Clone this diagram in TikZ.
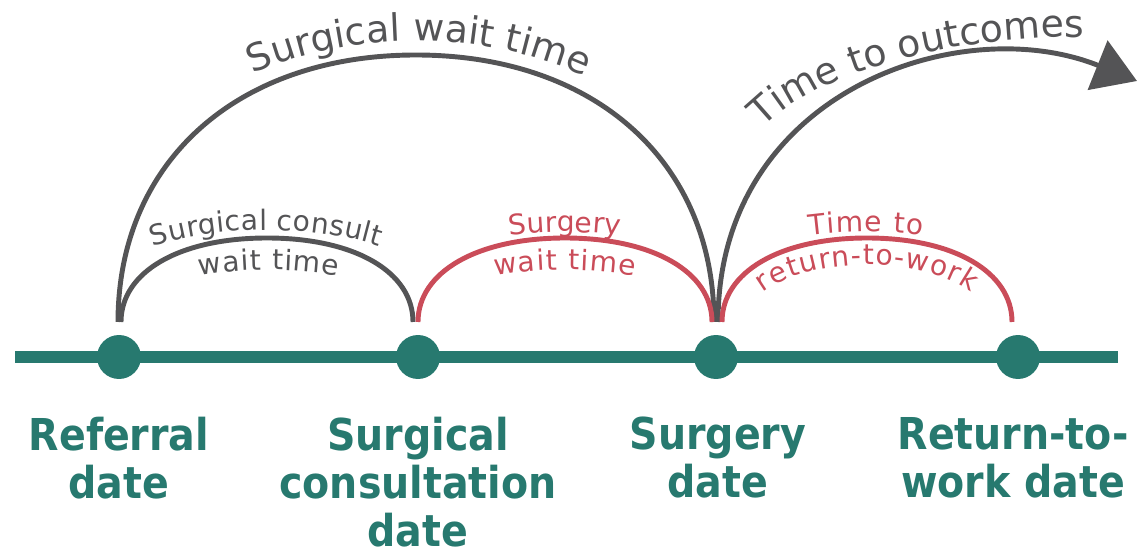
\documentclass[tikz,border=0pt]{standalone}
\usepackage{fontspec}
\setmainfont{DejaVu Sans}
\newfontfamily\datefont{DejaVu Sans Condensed Bold}
\usetikzlibrary{arrows.meta,decorations.text}

\definecolor{tlteal}{RGB}{39,121,111}
\definecolor{arcgray}{RGB}{84,84,86}
\definecolor{arcred}{RGB}{202,76,89}
\newcommand{\bigarcfont}{\fontsize{21.5}{25}\selectfont}
\newcommand{\smallarcfont}{\fontsize{16}{19}\selectfont}

\tikzset{
  timeline/.style={draw=tlteal, line width=7.2pt},
  datedot/.style={circle, fill=tlteal, minimum size=0.88cm, inner sep=0pt},
  datelabel/.style={anchor=north, inner sep=0pt, align=center, text=tlteal,
    font=\datefont\fontsize{25}{27.2}\selectfont},
  grayarc/.style={draw=arcgray, line width=2.8pt},
  redarc/.style={draw=arcred, line width=2.8pt},
  arclabel/.style={decorate, decoration={text along path, text align=fit to path, text={#1}}}
}

\begin{document}
\begin{tikzpicture}[x=0.02cm,y=0.02cm]
\useasboundingbox (0,0) rectangle (1138,554);

% time line and the four dates
\coordinate (tlstart) at (15,197);
\coordinate (tlend) at (1118,197);
\draw[timeline] (tlstart) -- (tlend);
\node[datedot] (ref) at (119,197) {};
\node[datedot] (cons) at (418,197) {};
\node[datedot] (surg) at (716,197) {};
\node[datedot] (rtw) at (1018,197) {};

\node[datelabel] (refLbl) at (119,137) {Referral\\date};
\node[datelabel] (consLbl) at (418,137) {Surgical\\consultation\\date};
\node[datelabel] (surgLbl) at (718,137) {Surgery\\date};
\node[datelabel] (rtwLbl) at (1013,137) {Return-to-\\work date};

% feet and tops of the arcs
\coordinate (bigL) at (118,232);   \coordinate (bigTop) at (416,499);  \coordinate (bigR) at (714,232);
\coordinate (scL) at (121,232);    \coordinate (scTop) at (267,316);   \coordinate (scR) at (413,232);
\coordinate (swL) at (418,232);    \coordinate (swTop) at (565,316);   \coordinate (swR) at (712,232);
\coordinate (rwL) at (722,232);    \coordinate (rwTop) at (867,316);   \coordinate (rwR) at (1012,232);
\coordinate (outS) at (718,232);   \coordinate (outE) at (1137,473);

% gray arcs
\draw[grayarc] (bigL) .. controls +(0,160) and +(-179,0) .. (bigTop)
  .. controls +(179,0) and +(0,160) .. (bigR);
\draw[grayarc] (scL) .. controls +(0,50) and +(-88,0) .. (scTop)
  .. controls +(88,0) and +(0,50) .. (scR);
\draw[grayarc, -{Triangle[length=0.85cm,width=1.05cm]}] (outS) .. controls (718,462) and (960,544) .. (outE);

% red arcs
\draw[redarc] (swL) .. controls +(0,50) and +(-88,0) .. (swTop)
  .. controls +(88,0) and +(0,50) .. (swR);
\draw[redarc] (rwL) .. controls +(0,50) and +(-87,0) .. (rwTop)
  .. controls +(87,0) and +(0,50) .. (rwR);

% texts along the arcs
\path[arclabel={|\bigarcfont\color{arcgray}|Surgical wait time}]
  (416,294) ++(121.6:311 and 219) arc[start angle=121.6, end angle=58.8, x radius=311, y radius=219];
\path[arclabel={|\smallarcfont\color{arcgray}|Surgical consult}]
  (266,232) ++(124.5:200 and 92) arc[start angle=124.5, end angle=55.5, x radius=200, y radius=92];
\path[arclabel={|\smallarcfont\color{arcgray}|wait time}]
  (269,232) ++(117.4:150 and 52) arc[start angle=117.4, end angle=62.6, x radius=150, y radius=52];
\path[arclabel={|\smallarcfont\color{arcred}|Surgery}]
  (565,232) ++(106:200 and 90) arc[start angle=106, end angle=74, x radius=200, y radius=90];
\path[arclabel={|\smallarcfont\color{arcred}|wait time}]
  (565,232) ++(117.8:150 and 52) arc[start angle=117.8, end angle=62.2, x radius=150, y radius=52];
\path[arclabel={|\smallarcfont\color{arcred}|Time to}]
  (866,232) ++(106.3:200 and 90) arc[start angle=106.3, end angle=73.7, x radius=200, y radius=90];
\path[arclabel={|\smallarcfont\color{arcred}|return-to-work}]
  (867,232) ++(148.5:122 and 57) arc[start angle=148.5, end angle=31.5, x radius=122, y radius=57];
\path[arclabel={|\bigarcfont\color{arcgray}|Time to outcomes}]
  (763,426) .. controls (808,474) and (930,516) .. (1075,517);
\end{tikzpicture}
\end{document}
